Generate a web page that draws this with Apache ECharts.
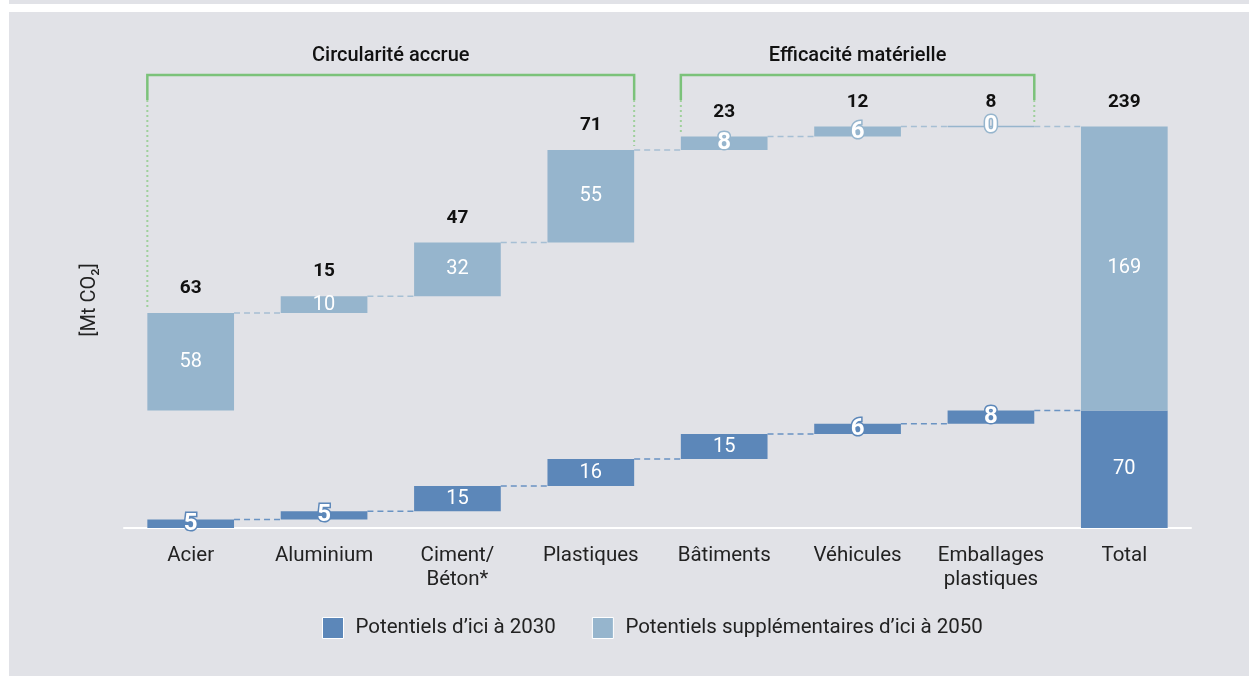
<!DOCTYPE html>
<html><head><meta charset="utf-8">
<script src="https://cdn.jsdelivr.net/npm/echarts@6/dist/echarts.min.js"></script>
<style>
html,body{margin:0;padding:0;background:#fff;width:1249px;height:676px;overflow:hidden;}
#stripe{position:absolute;left:9px;top:0;width:1240px;height:4px;background:#e1e2e7;}
#panel{position:absolute;left:9px;top:12px;width:1240px;height:664px;background:#e1e2e7;}
#chart{position:absolute;left:0;top:0;width:1249px;height:676px;}
</style></head><body>
<div id="stripe"></div><div id="panel"></div><div id="chart"></div>
<script>
// ---- Data ----
const categories = ['Acier', 'Aluminium', 'Ciment/\nBéton*', 'Plastiques', 'Bâtiments', 'Véhicules', 'Emballages\nplastiques', 'Total'];
const potentiel2030 = [5, 5, 15, 16, 15, 6, 8];
const potentiel2050 = [58, 10, 32, 55, 8, 6, 0];
const seriesNames = ['Potentiels d\u2019ici à 2030', 'Potentiels supplémentaires d\u2019ici à 2050'];
const groupes = [
  { titre: 'Circularité accrue', debut: 0, fin: 3 },
  { titre: 'Efficacité matérielle', debut: 4, fin: 6 }
];
const yName = '[Mt CO\u2082]';

// ---- Derived ----
const FONT = 'Roboto';
const DARK = '#5c87b9', LIGHT = '#96b5cd', GREEN = '#7bc27a', GREEN_DOT = '#9fd09c';
const n = potentiel2030.length;
const T30 = potentiel2030.reduce((a, b) => a + b, 0);
const T50 = potentiel2050.reduce((a, b) => a + b, 0);
const cumL = [], cumU = [];
let sl = 0, su = 0;
for (let i = 0; i < n; i++) { cumL.push(sl); cumU.push(su); sl += potentiel2030[i]; su += potentiel2050[i]; }
const baseLow = cumL.concat([0]);
const gap = [];
for (let i = 0; i < n; i++) gap.push(T30 + cumU[i] - (cumL[i] + potentiel2030[i]));
gap.push(0);
const darkVals = potentiel2030.concat([T30]);
const lightVals = potentiel2050.concat([T50]);
const sums = potentiel2030.map((v, i) => v + potentiel2050[i]).concat([T30 + T50]);
const tops = lightVals.map((v, i) => i < n ? T30 + cumU[i] + v : T30 + T50);

const BAR_FRAC = 0.65;
function normalLabel() {
  return { show: true, position: 'inside', color: '#fff', fontSize: 20, fontFamily: FONT };
}
function outlineLabel(c) {
  return { show: true, position: 'inside', color: '#fff', fontSize: 24, fontWeight: 'bold', fontFamily: FONT, textBorderColor: c, textBorderWidth: 3 };
}
const darkData = darkVals.map(v => ({ value: v, label: v < 10 ? outlineLabel(DARK) : normalLabel() }));
const lightData = lightVals.map(v => {
  const o = { value: v, label: v < 10 ? outlineLabel(LIGHT) : normalLabel() };
  if (v === 0) o.itemStyle = { borderColor: LIGHT, borderWidth: 1.5 };
  return o;
});

// connectors
const connData = [];
for (let i = 0; i < n; i++) {
  connData.push([i, cumL[i] + potentiel2030[i], 0]);
  connData.push([i, T30 + cumU[i] + potentiel2050[i], 1]);
}

const chart = echarts.init(document.getElementById('chart'), null, { renderer: 'canvas' });
const option = {
  backgroundColor: 'transparent',
  textStyle: { fontFamily: FONT },
  grid: { left: 124, right: 58, top: 108, bottom: 148 },
  legend: {
    data: seriesNames,
    top: 612, left: 317,
    itemWidth: 21, itemHeight: 21, itemGap: 36, icon: 'rect',
    itemStyle: { borderColor: '#ffffff', borderWidth: 1 },
    textStyle: { fontSize: 20.5, color: '#222', fontFamily: FONT, padding: [0, 0, 0, 7] }
  },
  xAxis: {
    type: 'category', data: categories,
    axisLine: { lineStyle: { color: '#ffffff', width: 2 } },
    axisTick: { show: false },
    axisLabel: { interval: 0, fontSize: 20.5, color: '#222', lineHeight: 24, margin: 16, fontFamily: FONT }
  },
  yAxis: {
    type: 'value', min: 0, max: 250,
    axisLine: { show: false }, axisTick: { show: false }, axisLabel: { show: false }, splitLine: { show: false }
  },
  graphic: [{
    type: 'text', x: 90, y: 300, rotation: Math.PI / 2,
    style: { text: yName, fontSize: 20, fill: '#222', fontFamily: FONT, textAlign: 'center', textVerticalAlign: 'middle' }
  }],
  series: [
    { type: 'bar', stack: 'w', data: baseLow, barWidth: (BAR_FRAC * 100) + '%', itemStyle: { color: 'transparent' }, silent: true },
    { type: 'bar', stack: 'w', name: seriesNames[0], data: darkData, itemStyle: { color: DARK } },
    { type: 'bar', stack: 'w', data: gap, itemStyle: { color: 'transparent' }, silent: true },
    { type: 'bar', stack: 'w', name: seriesNames[1], data: lightData, itemStyle: { color: LIGHT } },
    {
      type: 'custom', data: connData, clip: false, z: 1,
      renderItem: function (params, api) {
        const i = api.value(0), lvl = api.value(1), kind = api.value(2);
        const hw = api.size([1, 0])[0] * BAR_FRAC / 2;
        const p1 = api.coord([i, lvl]), p2 = api.coord([i + 1, lvl]);
        return {
          type: 'line',
          shape: { x1: p1[0] + hw, y1: p1[1], x2: p2[0] - hw, y2: p2[1] },
          style: { stroke: kind === 0 ? '#6a93c3' : '#a6bfd4', lineWidth: 1.5, lineDash: [6, 4] }
        };
      }
    },
    {
      type: 'custom', data: tops.map((t, i) => [i, t, sums[i]]), clip: false, z: 5,
      renderItem: function (params, api) {
        const p = api.coord([api.value(0), api.value(1)]);
        return {
          type: 'text', x: p[0], y: p[1] - 15,
          style: { text: String(api.value(2)), fontSize: 19, fontWeight: 'bold', fill: '#111', fontFamily: FONT, textAlign: 'center', textVerticalAlign: 'bottom' }
        };
      }
    },
    {
      type: 'custom', data: groupes.map((g, k) => [g.debut, g.fin, tops[g.debut], tops[g.fin], k]), clip: false, z: 3,
      renderItem: function (params, api) {
        const a = api.value(0), b = api.value(1);
        const hw = api.size([1, 0])[0] * BAR_FRAC / 2;
        const gridTop = api.coord([0, 250])[1];
        const yLine = gridTop - 33, ySolid = gridTop - 8;
        const xl = api.coord([a, 0])[0] - hw, xr = api.coord([b, 0])[0] + hw;
        const yl = api.coord([a, api.value(2)])[1] - 4, yr = api.coord([b, api.value(3)])[1] - 4;
        const g = groupes[api.value(4)];
        return {
          type: 'group', children: [
            { type: 'polyline', shape: { points: [[xl, ySolid], [xl, yLine], [xr, yLine], [xr, ySolid]] }, style: { stroke: GREEN, lineWidth: 2.5, fill: null } },
            { type: 'line', shape: { x1: xl, y1: ySolid, x2: xl, y2: yl }, style: { stroke: GREEN_DOT, lineWidth: 2, lineDash: [2, 3] } },
            { type: 'line', shape: { x1: xr, y1: ySolid, x2: xr, y2: yr }, style: { stroke: GREEN_DOT, lineWidth: 2, lineDash: [2, 3] } },
            { type: 'text', x: (xl + xr) / 2, y: yLine - 19, style: { text: g.titre, fontSize: 20, fontWeight: 500, fill: '#111', fontFamily: FONT, textAlign: 'center', textVerticalAlign: 'middle' } }
          ]
        };
      }
    }
  ]
};
chart.setOption(option);
</script>
</body></html>
